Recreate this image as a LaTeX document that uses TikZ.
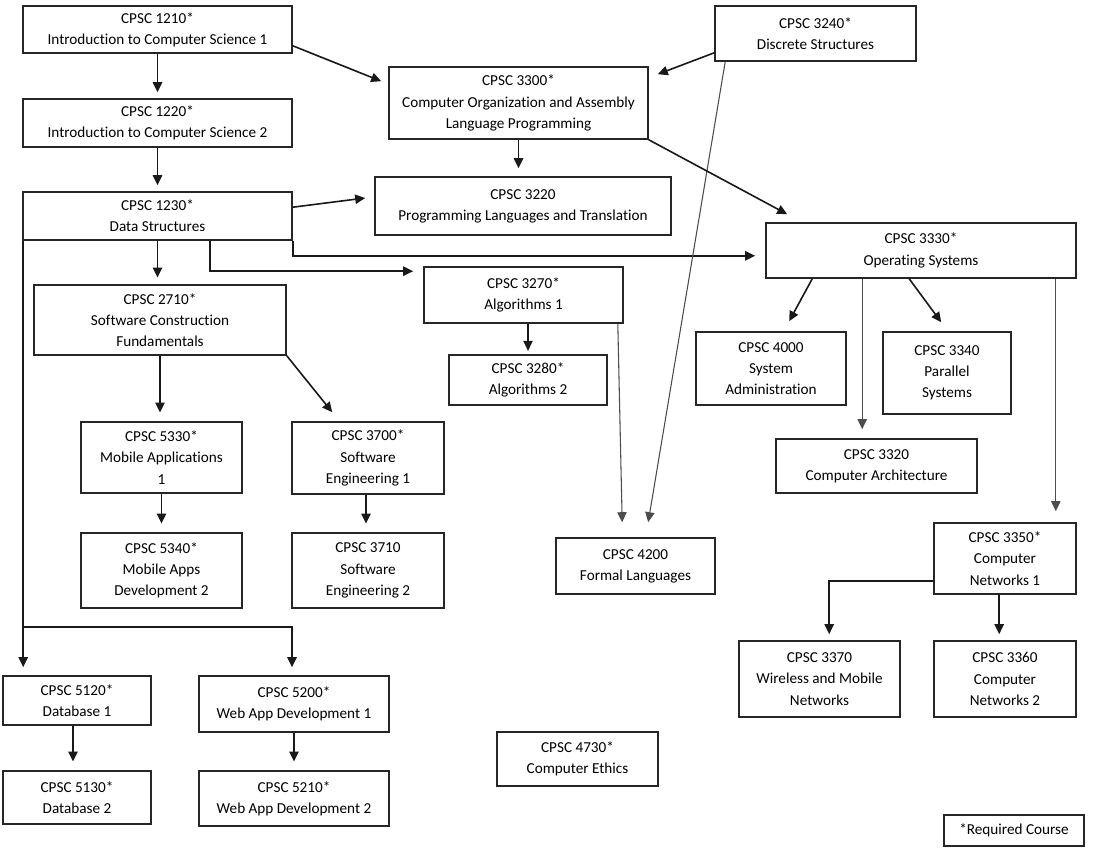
\documentclass[tikz,border=0pt]{standalone}
\usepackage{fontspec}
\setmainfont{Carlito}[Ligatures=NoCommon]
\usetikzlibrary{calc,arrows.meta}
\newcommand\crs[6]{\node[crsbox, minimum width={(#4-#2)*0.75pt}, minimum height={(#5-#3)*0.75pt}] (#1) at ({(#2+#4)/2},{(#3+#5)/2}) {#6};}
\begin{document}
\begin{tikzpicture}[x=0.75pt,y=-0.75pt,
  crsbox/.style={draw=black!85, line width=1.2pt, inner sep=0pt, align=center, font=\fontsize{11.4}{15.9}\selectfont},
  arr/.style={-{Triangle[length=7.5pt,width=7pt]}, line width=1.2pt, black!90},
  thin arr/.style={-{Triangle[length=7.5pt,width=7pt]}, line width=0.8pt, black!70}]
\useasboundingbox[fill=white] (0,0) rectangle (1093,850);
\crs{c1210}{23}{6}{292}{53}{CPSC 1210*\\Introduction to Computer Science 1}
\crs{c1220}{23}{99}{292}{147}{CPSC 1220*\\Introduction to Computer Science 2}
\crs{c1230}{23}{192}{292}{240}{CPSC 1230*\\Data Structures}
\crs{c3300}{389}{67}{648}{139}{CPSC 3300*\\Computer Organization and Assembly\\Language Programming}
\crs{c3220}{375}{177}{671}{235}{CPSC 3220\\Programming Languages and Translation}
\crs{c3240}{715}{6}{916}{61}{CPSC 3240*\\Discrete Structures}
\crs{c3330}{766}{223}{1076}{278}{CPSC 3330*\\Operating Systems}
\crs{c3270}{424}{267}{623}{323}{CPSC 3270*\\Algorithms 1}
\crs{c3280}{449}{355}{607}{405}{CPSC 3280*\\Algorithms 2}
\crs{c4200}{556}{538}{715}{594}{CPSC 4200\\Formal Languages}
\crs{c4000}{696}{332}{846}{405}{CPSC 4000\\System\\Administration}
\crs{c3340}{883}{332}{1011}{414}{CPSC 3340\\Parallel\\Systems}
\crs{c3320}{776}{439}{977}{493}{CPSC 3320\\Computer Architecture}
\crs{c3350}{934}{523}{1076}{594}{CPSC 3350*\\Computer\\Networks 1}
\crs{c3370}{739}{641}{900}{717}{CPSC 3370\\Wireless and Mobile\\Networks}
\crs{c3360}{934}{641}{1076}{717}{CPSC 3360\\Computer\\Networks 2}
\crs{c2710}{34}{285}{286}{355}{CPSC 2710*\\Software Construction\\Fundamentals}
\crs{c5330}{81}{422}{242}{493}{CPSC 5330*\\Mobile Applications\\1}
\crs{c3700}{292}{422}{444}{494}{CPSC 3700*\\Software\\Engineering 1}
\crs{c5340}{81}{533}{242}{608}{CPSC 5340*\\Mobile Apps\\Development 2}
\crs{c3710}{292}{533}{444}{608}{CPSC 3710\\Software\\Engineering 2}
\crs{c5120}{3}{676}{151}{725}{CPSC 5120*\\Database 1}
\crs{c5200}{199}{676}{389}{732}{CPSC 5200*\\Web App Development 1}
\crs{c5130}{3}{771}{151}{824}{CPSC 5130*\\Database 2}
\crs{c5210}{199}{771}{389}{826}{CPSC 5210*\\Web App Development 2}
\crs{c4730}{497}{732}{658}{786}{CPSC 4730*\\Computer Ethics}
\crs{creq}{944}{815}{1084}{846}{*Required Course}
% connectors
\draw[arr, shorten >=4.5pt] (c1210.south) -- (c1220.north);
\draw[arr, shorten >=4.5pt] (c1220.south) -- (c1230.north);
\draw[arr] ($(c1210.south east)+(0,-8)$) -- ($(c3300.north west)+(-7,15)$);
\draw[arr] ($(c3240.south west)+(0,-9)$) -- ($(c3300.north east)+(9,8)$);
\draw[arr, shorten >=6pt] (c3300.south) -- (c3300.south |- c3220.north);
\draw[arr] ($(c1230.north east)+(0,16)$) -- ($(c3220.west)+(-9,-8)$);
\draw[arr] (c1230.south east) |- ($(c3330.south west)+(-10,-23)$);
\draw[arr] ($(c1230.south west)+(188,0)$) |- ($(c3270.north west)+(-10,5)$);
\draw[arr, shorten >=5pt] (c1230.south) -- (c1230.south |- c2710.north);
% left trunk
\coordinate (jn) at ($(c1230.south west)+(1,386)$);
\draw[arr, shorten >=6pt] ($(c1230.south west)+(1,0)$) -- (jn |- c5120.north);
\draw[arr, shorten >=6pt] (jn) -| ($(c5200.north)+(-2,0)$);
\draw[arr, shorten >=6.5pt] (c2710.south) -- (c2710.south |- c5330.north);
\draw[arr] (c2710.south east) -- ($(c3700.north west)+(41,-9)$);
\draw[arr, shorten >=6.5pt] (c5330.south) -- (c5330.south |- c5340.north);
\draw[arr, shorten >=6.5pt] ($(c3700.south)+(-2,0)$) -- ($(c3710.north)+(-2,0)$);
\draw[arr, shorten >=2.5pt] (c3280.north |- c3270.south) -- (c3280.north);
\draw[thin arr] ($(c3270.south east)+(-6,0)$) -- ($(c4200.north west)+(67,-15)$);
\draw[thin arr] ($(c3240.south west)+(11,0)$) -- ($(c4200.north west)+(93,-15)$);
\draw[arr] (c3300.south east) -- ($(c3330.north west)+(22,-8)$);
\draw[arr] ($(c3330.south west)+(47,0)$) -- ($(c4000.north west)+(94,-10)$);
\draw[thin arr] ($(c3330.south west)+(97,0)$) -- ($(c3320.north west)+(87,-9)$);
\draw[arr] ($(c3330.south west)+(144,0)$) -- ($(c3340.north west)+(59,-9)$);
\draw[thin arr] ($(c3330.south east)+(-21,0)$) -- ($(c3350.north east)+(-21,-11)$);
\draw[arr] ($(c3350.south west)+(0,-14)$) -| ($(c3370.north west)+(91,-6)$);
\draw[arr] ($(c3350.south west)+(66,0)$) -- ($(c3360.north west)+(66,-6)$);
\draw[arr, shorten >=6.5pt] ($(c5120.south)+(-4,0)$) -- ($(c5130.north)+(-4,0)$);
\draw[arr, shorten >=6.5pt] (c5200.south) -- (c5210.north);
\end{tikzpicture}
\end{document}
